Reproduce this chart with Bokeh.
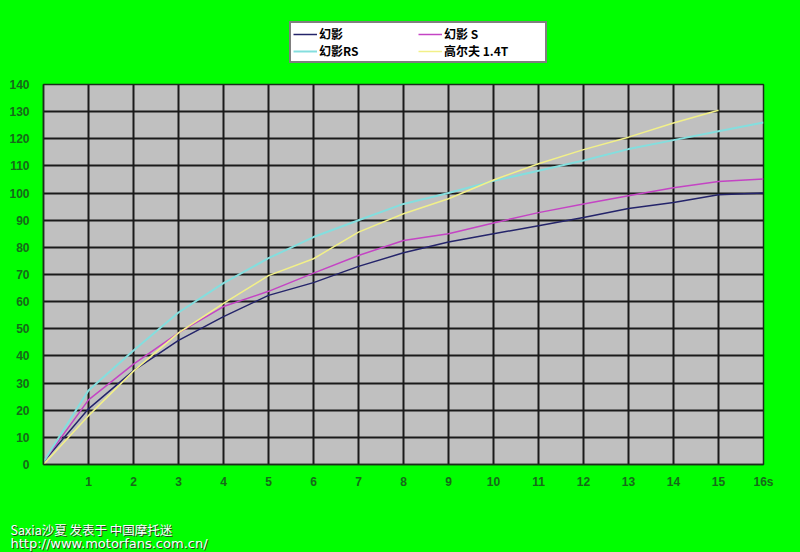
from bokeh.plotting import figure
from bokeh.models import Legend, LegendItem, Label, FixedTicker, Range1d
from bokeh.layouts import column
from bokeh.embed import file_html
from bokeh.resources import INLINE

# ---- data (time in s, speed in km/h) ----
t = list(range(17))
huanying = [1, 20.5, 34.6, 45.7, 54.5, 62.3, 67, 73, 78, 82, 85, 88, 91, 94.3, 96.5, 99.4, 100]
huanying_s = [1, 23.8, 37, 48.5, 58.2, 63.8, 70.5, 77, 82.5, 85, 89, 92.8, 96, 99, 102, 104.3, 105.2]
huanying_rs = [1, 27.3, 42, 56, 66.8, 76, 83.8, 90, 96, 100, 104.5, 108.2, 112, 116.2, 119.5, 122.8, 126]
t_golf = list(range(16))
golf = [0, 18, 34.4, 48.5, 59.4, 69.6, 75.8, 85.6, 92.4, 97.9, 104.8, 110.8, 116, 120.6, 125.8, 130.5]

series_names = ["幻影", "幻影 S", "幻影RS", "高尔夫 1.4T"]
series_colors = ["#24246a", "#c444c4", "#84dede", "#f2f088"]
x_ticks = list(range(1, 17))
x_tick_labels = {16: "16s"}
y_ticks = list(range(0, 141, 10))
watermark1 = "Saxia沙夏 发表于 中国摩托迷"
watermark2 = "http://www.motorfans.com.cn/"

GREEN = "#00ff00"
TICK_COL = "#17691a"
W = 800

# ---------------- legend strip (top) ----------------
top = figure(width=W, height=76, x_range=Range1d(-20, -19), y_range=Range1d(-20, -19),
             x_axis_type=None, y_axis_type=None, output_backend="svg", toolbar_location=None,
             min_border=0, background_fill_color=GREEN, border_fill_color=GREEN)
top.frame_align = False
top.outline_line_color = None
top.title.visible = False
lg_rs = [top.line(t, huanying, line_color=series_colors[0], line_width=1.5),
         top.line(t, huanying_s, line_color=series_colors[1], line_width=1.5),
         top.line(t, huanying_rs, line_color=series_colors[2], line_width=2),
         top.line(t_golf, golf, line_color=series_colors[3], line_width=1.5)]
# column-major filling: column 1 = items 0, 2 ; column 2 = items 1, 3
order = [0, 2, 1, 3]
legend = Legend(items=[LegendItem(label=series_names[i], renderers=[lg_rs[i]]) for i in order],
                ncols=2, location=(289, 13),
                padding=2, spacing=0, margin=0,
                glyph_width=24, glyph_height=14, label_height=14, label_width=99,
                label_standoff=2,
                label_text_font="Noto Sans CJK SC", label_text_font_style="bold",
                label_text_font_size="12px", label_text_color="#000000",
                border_line_color="#000000", border_line_width=2,
                background_fill_color="#ffffff", background_fill_alpha=1)
top.add_layout(legend, "center")

# ---------------- main chart ----------------
p = figure(width=W, height=418, x_range=Range1d(0, 16), y_range=Range1d(0, 140),
           output_backend="svg", toolbar_location=None,
           min_border_left=43, min_border_right=37, min_border_top=8, min_border_bottom=30,
           background_fill_color="#c0c0c0", border_fill_color=GREEN)
p.frame_align = False
p.title.visible = False
p.outline_line_color = "#1c2c1c"
p.outline_line_width = 1.5

p.xaxis.ticker = FixedTicker(ticks=x_ticks)
p.xaxis.major_label_overrides = x_tick_labels
p.yaxis.ticker = FixedTicker(ticks=y_ticks)
for ax in (p.xaxis, p.yaxis):
    ax.major_tick_line_color = None
    ax.minor_tick_line_color = None
    ax.axis_line_color = "#1c2c1c"
    ax.axis_line_width = 1.5
    ax.major_label_text_font = "Liberation Sans"
    ax.major_label_text_font_style = "bold"
    ax.major_label_text_font_size = "12px"
    ax.major_label_text_color = TICK_COL
p.xaxis.major_label_standoff = 4
p.yaxis.major_label_standoff = 8

p.xgrid.ticker = FixedTicker(ticks=x_ticks)
p.ygrid.ticker = FixedTicker(ticks=y_ticks)
for g in (p.xgrid, p.ygrid):
    g.grid_line_color = "#1a1a1a"
    g.grid_line_width = 2

p.line(t, huanying, line_color=series_colors[0], line_width=1.5)
p.line(t, huanying_s, line_color=series_colors[1], line_width=1.5)
p.line(t, huanying_rs, line_color=series_colors[2], line_width=2)
p.line(t_golf, golf, line_color=series_colors[3], line_width=1.5)

# ---------------- watermark strip (bottom) ----------------
bot = figure(width=W, height=58, x_range=Range1d(0, 1), y_range=Range1d(0, 1),
             x_axis_type=None, y_axis_type=None, output_backend="svg", toolbar_location=None,
             min_border=0, background_fill_color=GREEN, border_fill_color=GREEN)
bot.frame_align = False
bot.outline_line_color = None
bot.title.visible = False
for dx, dy, col in ((1, -1, "#2a3a2a"), (0, 0, "#ffffff")):
    bot.add_layout(Label(x=10 + dx, y=23 + dy, x_units="screen", y_units="screen",
                         text=watermark1, text_font="Noto Sans CJK SC", text_font_size="12.5px",
                         text_color=col, text_baseline="middle"))
    bot.add_layout(Label(x=10 + dx, y=9 + dy, x_units="screen", y_units="screen",
                         text=watermark2, text_font="DejaVu Sans", text_font_size="13px",
                         text_color=col, text_baseline="middle"))

layout = column(top, p, bot, spacing=0)

html = file_html(layout, INLINE)
html = html.replace("</head>", "<style>body{background-color:#00ff00;}</style></head>", 1)
open("out.html", "w").write(html)
